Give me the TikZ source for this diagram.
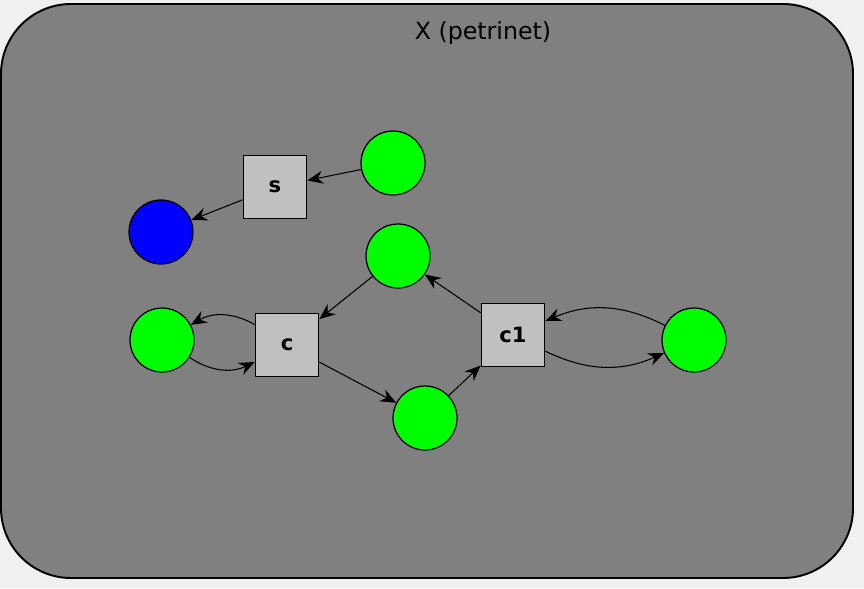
\documentclass[tikz,border=0pt]{standalone}
\usepackage{fontspec}
\setmainfont{DejaVu Sans}
\usepackage{xcolor}
\usetikzlibrary{arrows.meta}
\definecolor{pagebg}{HTML}{F0F0F0}
\definecolor{netbg}{HTML}{808080}
\definecolor{transbg}{HTML}{C0C0C0}
\definecolor{placegreen}{HTML}{00FF00}
\definecolor{placeblue}{HTML}{0000FF}
\tikzset{
  net/.style={draw=black, fill=netbg, line width=1.1pt, rounded corners=1.4cm},
  place/.style={circle, draw=black, line width=0.7pt, minimum size=1.28cm, inner sep=0pt, fill=placegreen},
  trans/.style={rectangle, draw=black, fill=transbg, line width=1pt, minimum size=1.26cm, inner sep=0pt, font=\bfseries\large},
  arc/.style={draw=black, line width=0.6pt, -{Stealth[length=9pt, width=7.5pt, inset=3pt]}},
  lab/.style={text=black, font=\fontsize{13.5}{16}\selectfont},
}

\begin{document}
\begin{tikzpicture}[x=0.02cm, y=-0.02cm]
  \fill[pagebg] (0,0) rectangle (864,588);
  \useasboundingbox (0,0) rectangle (864,588);

  % net frame and title
  \draw[net] (1,4) rectangle (853,578);
  \node[lab] (title) at (483,33) {X (petrinet)};

  % transitions
  \node[trans] (tS) at (275,187) {s};
  \node[trans] (tC) at (287,345) {c};
  \node[trans] (tCone) at (513,335) {c1};

  % places
  \node[place] (pA) at (393,163) {};
  \node[place, fill=placeblue] (pB) at (161,232) {};
  \node[place] (pC) at (398,256) {};
  \node[place] (pL) at (162,340) {};
  \node[place] (pM) at (425,418) {};
  \node[place] (pR) at (694,340) {};

  % arcs
  \draw[arc] (pA) -- (tS);
  \draw[arc] (tS) -- (pB);
  \draw[arc] (pC) -- (tC);
  \draw[arc] (tCone) -- (pC);
  \draw[arc] (tC) -- (pM);
  \draw[arc] (pM) -- (tCone);
  \draw[arc] (tC) to[bend right=30] (pL);
  \draw[arc] (pL) to[bend right=30] (tC);
  \draw[arc] (pR) to[bend right=25] (tCone);
  \draw[arc] (tCone) to[bend right=25] (pR);
\end{tikzpicture}
\end{document}
